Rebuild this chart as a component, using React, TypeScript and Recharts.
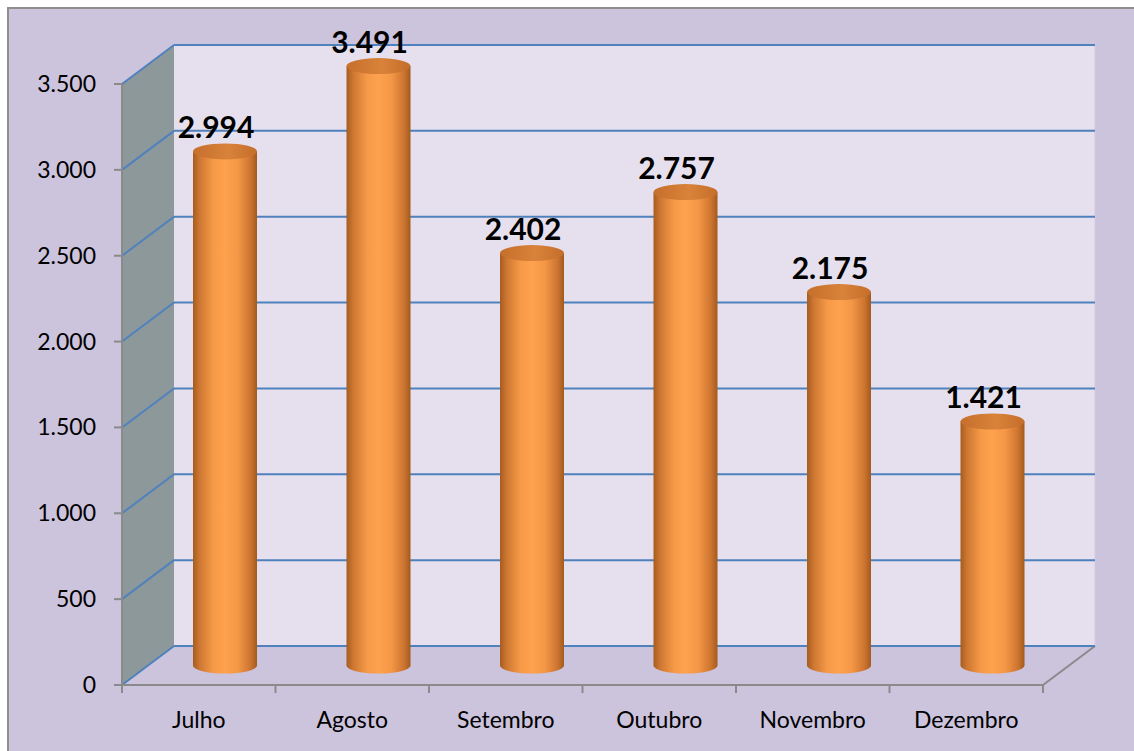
import { Bar, BarChart, CartesianGrid, LabelList, ReferenceArea, XAxis, YAxis } from 'recharts';

const categories = ['Julho', 'Agosto', 'Setembro', 'Outubro', 'Novembro', 'Dezembro'];
const values = [2994, 3491, 2402, 2757, 2175, 1421];
const yTicks = [0, 500, 1000, 1500, 2000, 2500, 3000, 3500];

const rows = categories.map((name, i) => ({ name, value: values[i] }));

// 3d depth offset of the back wall
const DX = 52;
const DY = 39;
const FONT = 'Lato, "Open Sans", sans-serif';
const GRID = '#4F81BD';
const AXIS = '#8A8A8A';

function fmt(v: number) {
  return String(v).replace(/\B(?=(\d{3})+(?!\d))/g, '.');
}

function Walls(props: any) {
  const { x, y, width, height } = props;
  const bottom = y + height;
  const right = x + width;
  const band = width / categories.length;
  return (
    <g>
      <polygon points={`${x},${y} ${x + DX},${y - DY} ${x + DX},${bottom - DY} ${x},${bottom}`} fill="#8D989B" />
      <rect x={x + DX} y={y - DY} width={width} height={height} fill="#E6E0EE" />
      <polygon points={`${x},${bottom} ${x + DX},${bottom - DY} ${right + DX},${bottom - DY} ${right},${bottom}`} fill="#CCC3DD" />
      <line x1={right} y1={bottom} x2={right + DX} y2={bottom - DY} stroke={AXIS} strokeWidth={2} />
      <line x1={right + DX} y1={y - DY} x2={right + DX} y2={bottom - DY} stroke="#D3CCE2" strokeWidth={1} />
      {categories.map((c, i) => (
        <line key={c} x1={x + i * band} y1={bottom} x2={x + i * band} y2={bottom + 8} stroke={AXIS} strokeWidth={2} />
      ))}
      <line x1={right} y1={bottom} x2={right} y2={bottom + 8} stroke={AXIS} strokeWidth={2} />
    </g>
  );
}

function GridLine(p: any) {
  return (
    <g key={`h-${p.y1}`}>
      <line x1={p.x1} y1={p.y1} x2={p.x1 + DX} y2={p.y1 - DY} stroke={GRID} strokeWidth={2} />
      <line x1={p.x1 + DX} y1={p.y1 - DY} x2={p.x2 + DX} y2={p.y1 - DY} stroke={GRID} strokeWidth={2} />
    </g>
  );
}

function Cylinder(props: any) {
  const { x, y, width, height } = props;
  if (x == null || y == null) return null;
  const cx = x + width / 2 + DX / 2;
  const top = y - DY / 2;
  const bottom = y + height - DY / 2;
  const rx = width / 2;
  const ry = 8;
  const l = cx - rx;
  const r = cx + rx;
  return (
    <g>
      <path d={`M${l},${top} L${l},${bottom} A${rx},${ry} 0 0 0 ${r},${bottom} L${r},${top} Z`} fill="url(#cylBody)" />
      <ellipse cx={cx} cy={top} rx={rx} ry={ry} fill="url(#cylTop)" />
    </g>
  );
}

function ValueLabel(props: any) {
  const { x, y, width, value } = props;
  if (x == null || y == null) return null;
  return (
    <text x={x + width / 2 + 17} y={y - DY / 2 - 13} textAnchor="middle" fontFamily={FONT} fontSize={30} fontWeight={700} fill="#000">
      {fmt(value)}
    </text>
  );
}

function YTick(props: any) {
  const { x, y, payload } = props;
  return (
    <text x={x} y={y + 8} textAnchor="end" fontFamily={FONT} fontSize={23} fill="#000">
      {fmt(payload.value)}
    </text>
  );
}

function XTick(props: any) {
  const { x, y, payload } = props;
  return (
    <text x={x} y={y + 43} textAnchor="middle" fontFamily={FONT} fontSize={23} fill="#000">
      {payload.value}
    </text>
  );
}

export default function App() {
  return (
    <div style={{ position: 'absolute', left: 0, top: 0, width: 1134, height: 751, overflow: 'hidden', background: '#fff' }}>
      <div
        style={{
          position: 'absolute',
          left: 7,
          top: 7,
          width: 1140,
          height: 760,
          background: '#CCC3DD',
          borderLeft: '2px solid #8E8E8E',
          borderTop: '2px solid #8E8E8E',
        }}
      />
      <div style={{ position: 'absolute', left: 0, top: 0 }}>
        <BarChart width={1134} height={751} data={rows} margin={{ top: 84, right: 91, bottom: 36, left: 0 }}>
          <defs>
            <linearGradient id="cylBody" x1="0" y1="0" x2="1" y2="0">
              <stop offset="0%" stopColor="#A65C1F" />
              <stop offset="10%" stopColor="#CC7631" />
              <stop offset="32%" stopColor="#F69A48" />
              <stop offset="50%" stopColor="#FFA24F" />
              <stop offset="70%" stopColor="#F49746" />
              <stop offset="90%" stopColor="#CC7430" />
              <stop offset="100%" stopColor="#A35A1D" />
            </linearGradient>
            <linearGradient id="cylTop" x1="0" y1="0" x2="1" y2="0">
              <stop offset="0%" stopColor="#C56F2C" />
              <stop offset="55%" stopColor="#D8823A" />
              <stop offset="100%" stopColor="#C46E2B" />
            </linearGradient>
          </defs>
          <ReferenceArea y1={0} y2={3500} shape={<Walls />} zIndex={-200} />
          <CartesianGrid vertical={false} horizontal={GridLine} />
          <XAxis
            dataKey="name"
            height={30}
            axisLine={{ stroke: AXIS, strokeWidth: 2 }}
            tickLine={false}
            tickSize={0}
            tickMargin={0}
            tick={<XTick />}
          />
          <YAxis
            width={122}
            domain={[0, 3500]}
            ticks={yTicks}
            axisLine={{ stroke: AXIS, strokeWidth: 2 }}
            tickLine={{ stroke: AXIS, strokeWidth: 2 }}
            tickSize={8}
            tickMargin={18}
            tick={<YTick />}
          />
          <Bar dataKey="value" barSize={64} shape={<Cylinder />} isAnimationActive={false}>
            <LabelList dataKey="value" content={<ValueLabel />} />
          </Bar>
        </BarChart>
      </div>
    </div>
  );
}
